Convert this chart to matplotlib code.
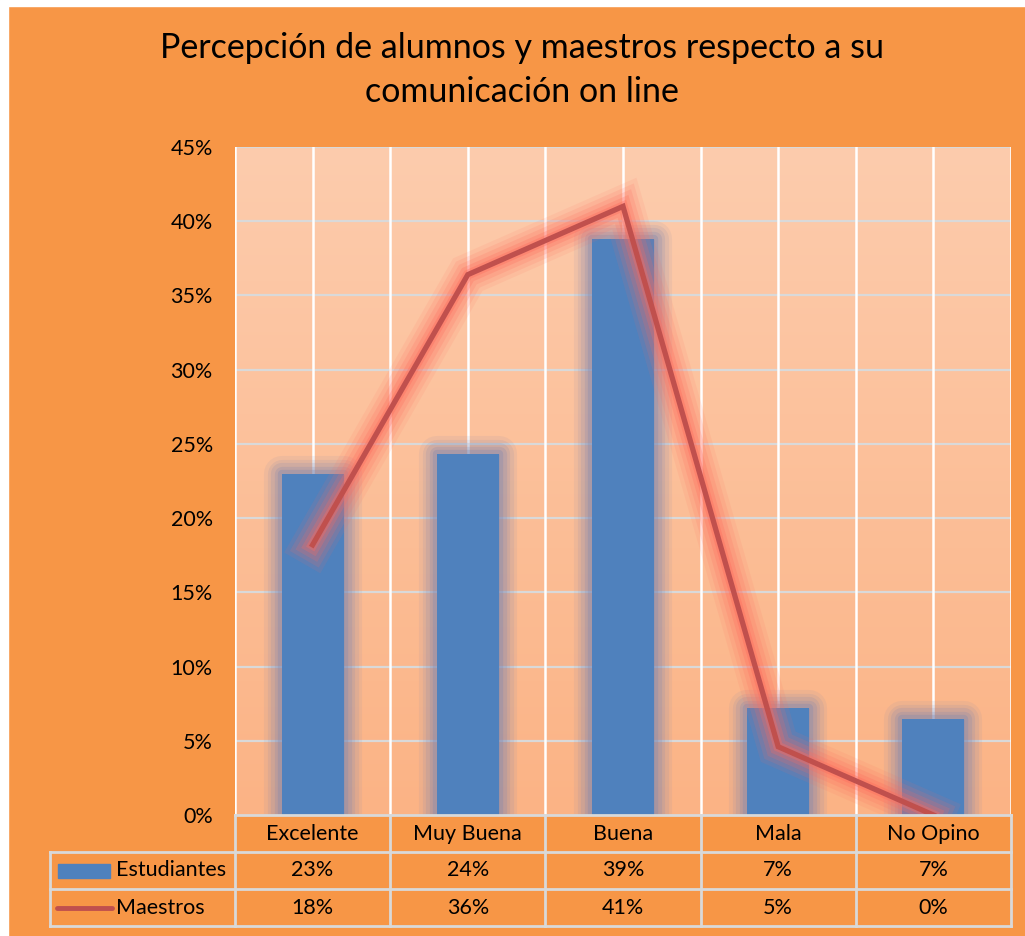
#!/usr/bin/env python3
"""Percepción de alumnos y maestros: bars + line + data table, Excel style."""
import matplotlib
matplotlib.use("Agg")
import matplotlib.pyplot as plt
import matplotlib.patheffects as pe
import matplotlib.transforms as mtransforms
import numpy as np
from matplotlib.colors import LinearSegmentedColormap

categories = ["Excelente", "Muy Buena", "Buena", "Mala", "No Opino"]
estudiantes = [23.0, 24.3, 38.8, 7.2, 6.5]
maestros = [18.2, 36.4, 41.0, 4.6, 0.0]
estudiantes_lbl = ["23%", "24%", "39%", "7%", "7%"]
maestros_lbl = ["18%", "36%", "41%", "5%", "0%"]
yticks = [0, 5, 10, 15, 20, 25, 30, 35, 40, 45]

ORANGE = "#F79646"
BLUE = "#4F81BD"
RED = "#C0504D"
GRID = "#D9D9D9"
FONT = "Lato"
FS = 15.5

plt.rcParams["font.family"] = [FONT, "DejaVu Sans"]

W, H = 1025, 936
fig = plt.figure(figsize=(W / 100, H / 100), dpi=100)
fig.patch.set_facecolor(ORANGE)

# white strips at top/left edges like the screenshot
fig.add_artist(plt.Rectangle((0, 0), 8 / W, 1, transform=fig.transFigure,
                             color="white", zorder=0))
fig.add_artist(plt.Rectangle((0, 1 - 6 / H), 1, 6 / H, transform=fig.transFigure,
                             color="white", zorder=0))

left, right, top, bottom = 235, 1011, 147, 815
ax = fig.add_axes([left / W, 1 - bottom / H, (right - left) / W, (bottom - top) / H])
ax.set_facecolor("none")

x = np.arange(len(categories))
ax.set_xlim(-0.5, len(categories) - 0.5)
ax.set_ylim(0, 45)

# gradient plot area
grad = LinearSegmentedColormap.from_list("bg", ["#FBB385", "#FDCCAD"])
ax.imshow(np.linspace(0, 1, 256).reshape(-1, 1), cmap=grad, aspect="auto",
          extent=(-0.5, len(categories) - 0.5, 0, 45), origin="lower", zorder=0)

# gridlines
for yv in yticks[1:]:
    ax.axhline(yv, color=GRID, lw=1.6, zorder=1)
for xv in np.arange(-0.5, len(categories), 0.5):
    ax.axvline(xv, color="white", lw=1.8, zorder=1.5)

# bars with soft glow
glow_bar = [pe.Stroke(linewidth=w, foreground="#7d86b0", alpha=a, joinstyle="round")
            for w, a in [(26, 0.10), (21, 0.13), (16, 0.17), (11, 0.22), (6, 0.3)]]
glow_bar.append(pe.Normal())
bars = ax.bar(x, estudiantes, width=0.4, color=BLUE, zorder=3)
for b in bars:
    b.set_path_effects(glow_bar)

# line with red glow
glow_line = [pe.Stroke(linewidth=w, foreground="#FF6A5C", alpha=a)
             for w, a in [(30, 0.10), (24, 0.14), (18, 0.18), (12, 0.25), (7, 0.35)]]
glow_line.append(pe.Normal())
ax.plot(x, maestros, color=RED, lw=3.8, zorder=4, solid_joinstyle="miter",
        path_effects=glow_line)

ax.set_yticks(yticks)
ax.set_yticklabels([f"{v}%" for v in yticks], fontsize=FS)
ax.set_xticks([])
ax.tick_params(axis="y", length=0, pad=16)
for s in ax.spines.values():
    s.set_visible(False)

# data table below the axes
tr = mtransforms.blended_transform_factory(ax.transData, ax.transAxes)
row_h = 37 / (bottom - top)
x_leg = -0.5 - (left - 50) / ((right - left) / len(categories))
xr = len(categories) - 0.5
ys = [0, -row_h, -2 * row_h, -3 * row_h]
lkw = dict(color=GRID, lw=2, transform=tr, clip_on=False, zorder=5)
ax.plot([-0.5, xr], [ys[0], ys[0]], **lkw)
for yv in ys[1:]:
    ax.plot([x_leg, xr], [yv, yv], **lkw)
for xv in np.arange(-0.5, len(categories), 1.0):
    ax.plot([xv, xv], [ys[0], ys[3]], **lkw)
ax.plot([x_leg, x_leg], [ys[1], ys[3]], **lkw)

tkw = dict(transform=tr, ha="center", va="center", fontsize=FS, clip_on=False)
for i, c in enumerate(categories):
    ax.text(i, -0.5 * row_h, c, **tkw)
    ax.text(i, -1.5 * row_h, estudiantes_lbl[i], **tkw)
    ax.text(i, -2.5 * row_h, maestros_lbl[i], **tkw)

px = (right - left) / len(categories)
ax.add_patch(plt.Rectangle((x_leg + 8 / px, -1.5 * row_h - 7 / (bottom - top)),
                           52 / px, 14 / (bottom - top), transform=tr,
                           color=BLUE, clip_on=False, zorder=6))
ax.plot([x_leg + 7 / px, x_leg + 62 / px], [-2.5 * row_h, -2.5 * row_h],
        color=RED, lw=3.5, transform=tr, clip_on=False, zorder=6,
        solid_capstyle="round")
ax.text(x_leg + 66 / px, -1.5 * row_h, "Estudiantes", transform=tr, ha="left",
        va="center", fontsize=FS, clip_on=False)
ax.text(x_leg + 66 / px, -2.5 * row_h, "Maestros", transform=tr, ha="left",
        va="center", fontsize=FS, clip_on=False)

fig.text(522 / W, 1 - 70 / H,
         "Percepción de alumnos y maestros respecto a su\ncomunicación on line",
         ha="center", va="center", fontsize=24.5, linespacing=1.5)

fig.savefig("out.png", dpi=100, facecolor=fig.get_facecolor())
